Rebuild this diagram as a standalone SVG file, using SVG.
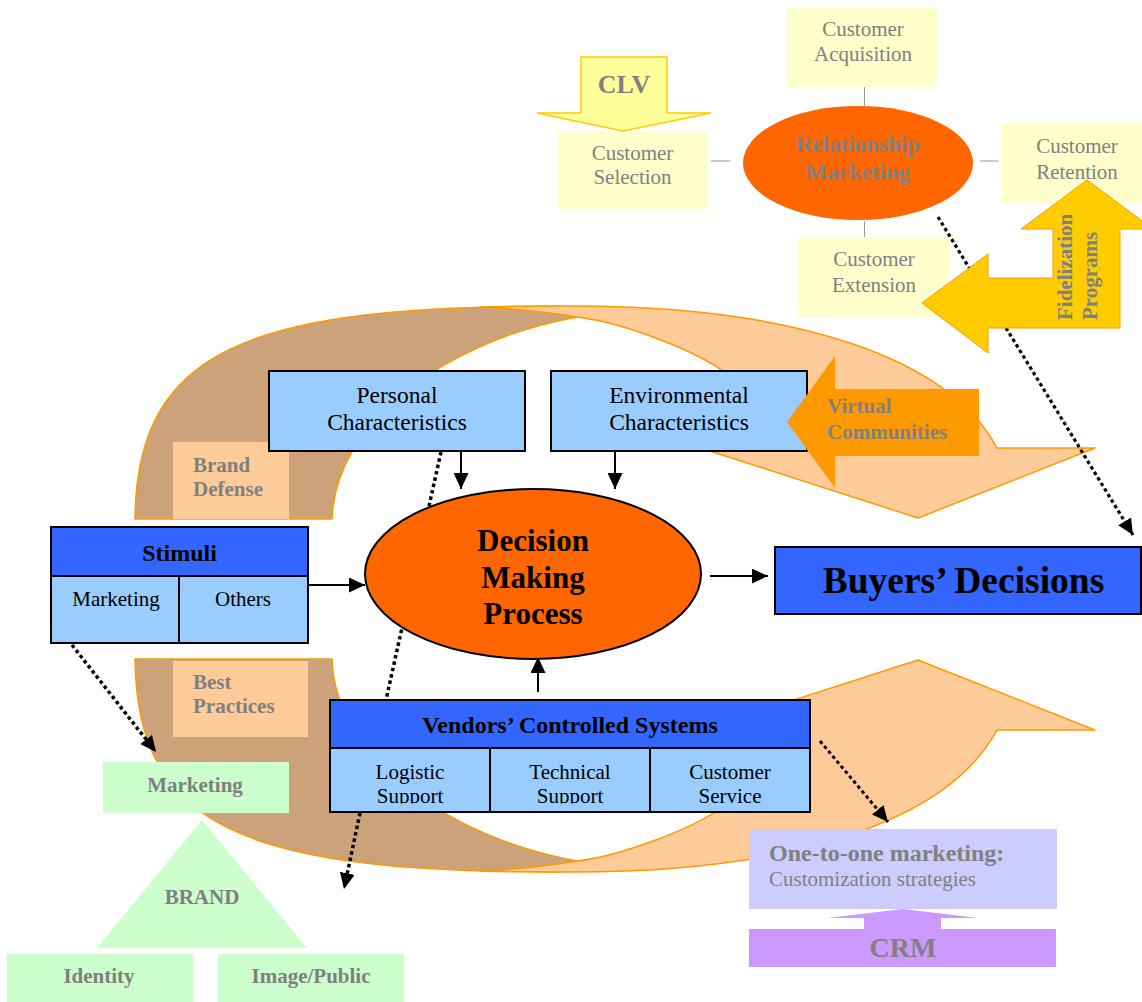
<svg xmlns="http://www.w3.org/2000/svg" width="1142" height="1002" viewBox="0 0 1142 1002">
  <style>
    .lbl { font-family: "Liberation Serif", "Times New Roman", serif; font-size: 21px; fill: #000; text-anchor: middle; }
    .big { font-family: "Liberation Serif", "Times New Roman", serif; font-size: 23.5px; fill: #000; text-anchor: middle; }
    .hdr { font-family: "Liberation Serif", "Times New Roman", serif; font-size: 24px; font-weight: bold; fill: #000; text-anchor: middle; }
    .grey { font-family: "Liberation Serif", "Times New Roman", serif; font-size: 21px; fill: #808080; }
    .greyb { font-family: "Liberation Serif", "Times New Roman", serif; font-size: 21px; font-weight: bold; fill: #808080; }
    .dark { fill: #3366FF; stroke: #000; stroke-width: 2; }
    .light { fill: #99CCFF; stroke: #000; stroke-width: 2; }
    .pale { fill: #FFFFCC; }
    .green { fill: #CCFFCC; }
    .tan { fill: #CCA27A; stroke: #FF9900; stroke-width: 1.5; stroke-linejoin: round; }
    .peach { fill: #FFCC99; stroke: #FF9900; stroke-width: 1.5; stroke-linejoin: round; }
    .solid { stroke: #000; stroke-width: 2; fill: none; marker-end: url(#ah); }
    .dots { stroke: #000; stroke-width: 3.5; stroke-dasharray: 3.5 3; fill: none; }
    .tick { stroke: #999; stroke-width: 1; }
  </style>
  <defs>
    <marker id="ah" viewBox="0 0 16 15" refX="16" refY="7.5" markerWidth="16" markerHeight="15" markerUnits="userSpaceOnUse" orient="auto">
      <path d="M0,0 L16,7.5 L0,15 Z" fill="#000"/>
    </marker>
    <clipPath id="cellClip">
      <rect x="330" y="748" width="480" height="55.5"/>
    </clipPath>
    <!-- one half of the cycle band: shaded back face and the forward arrow -->
    <g id="bandBack">
      <path class="tan" d="M135,519 C137,350 245,306 560,306 L577,317 C450,340 335,420 332,519 Z"/>
    </g>
    <g id="bandFront">
      <path class="peach" d="M479.9,307.1 C505,306.4 531.7,306 560,306 C800,304 950,360 997,448 L1095,448 L918,518 L713,452 L700,446 L712,400 L723,371 C690,348 620,322 577,317 Q530,309 479.9,307.1 Z"/>
    </g>
  </defs>

  <rect width="1142" height="1002" fill="#fff"/>

  <!-- cycle band around the decision process (upper and lower halves) -->
  <g id="cycle">
    <use href="#bandBack"/>
    <use href="#bandFront"/>
    <g transform="matrix(1,0,0,-1,0,1178)">
      <use href="#bandBack"/>
      <use href="#bandFront"/>
    </g>
  </g>

  <g id="brand-defense">
    <rect x="173" y="442" width="116" height="77" fill="#FFCC99"/>
    <text class="greyb" x="193" y="472">Brand</text>
    <text class="greyb" x="193" y="496">Defense</text>
  </g>

  <g id="best-practices">
    <rect x="173" y="661" width="135" height="76" fill="#FFCC99"/>
    <text class="greyb" x="193" y="689">Best</text>
    <text class="greyb" x="193" y="713">Practices</text>
  </g>

  <!-- connectors -->
  <g id="connectors">
    <path class="solid" d="M461,452 L461,489"/>
    <path class="solid" d="M615,452 L615,489"/>
    <path class="solid" d="M308,585 L365,585"/>
    <path class="solid" d="M710,576 L768,576"/>
    <path class="solid" d="M538,692 L538,657"/>
    <path class="dots" d="M441,452 L386,700"/>
    <path class="dots" d="M938,217 L1133,535" style="stroke-width:3.2" marker-end="url(#ah)"/>
    <path class="dots" d="M72,645 L156,752" marker-end="url(#ah)"/>
    <path class="dots" d="M360,813 L344,889" marker-end="url(#ah)"/>
    <path class="dots" d="M820,741 L888,822" style="stroke-width:3" marker-end="url(#ah)"/>
    <line class="tick" x1="864.5" y1="87" x2="864.5" y2="106"/>
    <line class="tick" x1="864.5" y1="221" x2="864.5" y2="237"/>
    <line class="tick" x1="711" y1="161" x2="730" y2="161"/>
    <line class="tick" x1="980" y1="161" x2="999" y2="161"/>
  </g>

  <g id="personal">
    <rect class="light" x="269" y="371" width="256" height="80"/>
    <text class="big" x="397" y="403">Personal</text>
    <text class="big" x="397" y="430">Characteristics</text>
  </g>

  <g id="environmental">
    <rect class="light" x="551" y="371" width="256" height="80"/>
    <text class="big" x="679" y="403">Environmental</text>
    <text class="big" x="679" y="430">Characteristics</text>
  </g>

  <g id="virtual-communities">
    <polygon points="787,422 835,356 835,389 979,389 979,456 835,456 835,488" fill="#FF9900"/>
    <text class="greyb" x="827" y="413">Virtual</text>
    <text class="greyb" x="827" y="439">Communities</text>
  </g>

  <g id="stimuli">
    <rect class="dark" x="51" y="527" width="257" height="49"/>
    <rect class="light" x="51" y="576" width="128" height="67"/>
    <rect class="light" x="179" y="576" width="129" height="67"/>
    <text class="hdr" x="179.5" y="561">Stimuli</text>
    <text class="lbl" x="116" y="606">Marketing</text>
    <text class="lbl" x="243" y="606">Others</text>
  </g>

  <g id="decision">
    <ellipse cx="533" cy="574" rx="168" ry="85" fill="#FF6600" stroke="#000" stroke-width="2"/>
    <text class="hdr" x="533" y="551" style="font-size:31px">Decision</text>
    <text class="hdr" x="533" y="588" style="font-size:31px">Making</text>
    <text class="hdr" x="533" y="624" style="font-size:31px">Process</text>
  </g>

  <g id="buyers">
    <rect class="dark" x="775" y="547" width="366" height="67"/>
    <text class="hdr" x="963.5" y="593" style="font-size:37.5px">Buyers’ Decisions</text>
  </g>

  <g id="vendors">
    <rect class="dark" x="330" y="700" width="480" height="48"/>
    <rect class="light" x="330" y="748" width="160" height="64"/>
    <rect class="light" x="490" y="748" width="160" height="64"/>
    <rect class="light" x="650" y="748" width="160" height="64"/>
    <text class="hdr" x="570" y="733">Vendors’ Controlled Systems</text>
    <g clip-path="url(#cellClip)">
      <text class="lbl" x="410" y="779">Logistic</text>
      <text class="lbl" x="410" y="802.5">Support</text>
      <text class="lbl" x="570" y="779">Technical</text>
      <text class="lbl" x="570" y="802.5">Support</text>
      <text class="lbl" x="730" y="779">Customer</text>
      <text class="lbl" x="730" y="802.5">Service</text>
    </g>
  </g>

  <!-- relationship marketing cluster -->
  <g id="customer-acquisition">
    <rect class="pale" x="787" y="7" width="151" height="80"/>
    <text class="grey" x="863" y="36" text-anchor="middle">Customer</text>
    <text class="grey" x="863" y="61" text-anchor="middle">Acquisition</text>
  </g>

  <g id="customer-selection">
    <rect class="pale" x="557" y="131" width="151" height="78"/>
    <text class="grey" x="632.5" y="160" text-anchor="middle">Customer</text>
    <text class="grey" x="632.5" y="184" text-anchor="middle">Selection</text>
  </g>

  <g id="customer-retention">
    <rect class="pale" x="1002" y="124" width="140" height="79"/>
    <text class="grey" x="1077" y="153" text-anchor="middle">Customer</text>
    <text class="grey" x="1077" y="179" text-anchor="middle">Retention</text>
  </g>

  <g id="customer-extension">
    <rect class="pale" x="798" y="237" width="151" height="80"/>
    <text class="grey" x="874" y="266" text-anchor="middle">Customer</text>
    <text class="grey" x="874" y="292" text-anchor="middle">Extension</text>
  </g>

  <g id="relationship-marketing">
    <ellipse cx="858" cy="163" rx="115" ry="57" fill="#FF6600"/>
    <text class="greyb" x="858" y="152" text-anchor="middle" style="font-size:23px">Relationship</text>
    <text class="greyb" x="858" y="180" text-anchor="middle" style="font-size:23px">Marketing</text>
  </g>

  <g id="clv">
    <polygon points="581,57 667,57 667,113 711,113 623,131 537,113 581,113" fill="#FFFF99" stroke="#FFCC00" stroke-width="1.5"/>
    <text class="greyb" x="624" y="93" text-anchor="middle" style="font-size:26px">CLV</text>
  </g>

  <g id="fidelization">
    <polygon points="1087,180 1153,229 1120,229 1120,328 988,328 988,353 922,303 988,254 988,278 1053,278 1053,229 1021,229" fill="#FFCC00" stroke="#FF9900" stroke-width="1"/>
    <text class="greyb" transform="translate(1072,320) rotate(-90)">Fidelization</text>
    <text class="greyb" transform="translate(1096.5,320) rotate(-90)">Programs</text>
  </g>

  <!-- brand pyramid -->
  <g id="marketing">
    <rect class="green" x="103" y="762" width="186" height="51"/>
    <text class="greyb" x="195" y="792" text-anchor="middle">Marketing</text>
  </g>

  <g id="brand">
    <polygon class="green" points="202,820 307,948 97,948"/>
    <text class="greyb" x="202" y="904" text-anchor="middle">BRAND</text>
  </g>

  <g id="identity">
    <rect class="green" x="7" y="954" width="186" height="48"/>
    <text class="greyb" x="99" y="983" text-anchor="middle">Identity</text>
  </g>

  <g id="image-public">
    <rect class="green" x="218" y="954" width="186" height="48"/>
    <text class="greyb" x="311" y="983" text-anchor="middle">Image/Public</text>
  </g>

  <g id="one-to-one">
    <rect x="749" y="829" width="308" height="80" fill="#CCCCFF"/>
    <text class="greyb" x="769" y="861" style="font-size:24px">One-to-one marketing:</text>
    <text class="grey" x="769" y="886">Customization strategies</text>
  </g>

  <g id="crm">
    <polygon points="749,929 864,929 864,918 827,918 903,909 978,918 941,918 941,929 1056,929 1056,967 749,967" fill="#CC99FF"/>
    <text class="greyb" x="903" y="957" text-anchor="middle" style="font-size:28px">CRM</text>
  </g>
</svg>
